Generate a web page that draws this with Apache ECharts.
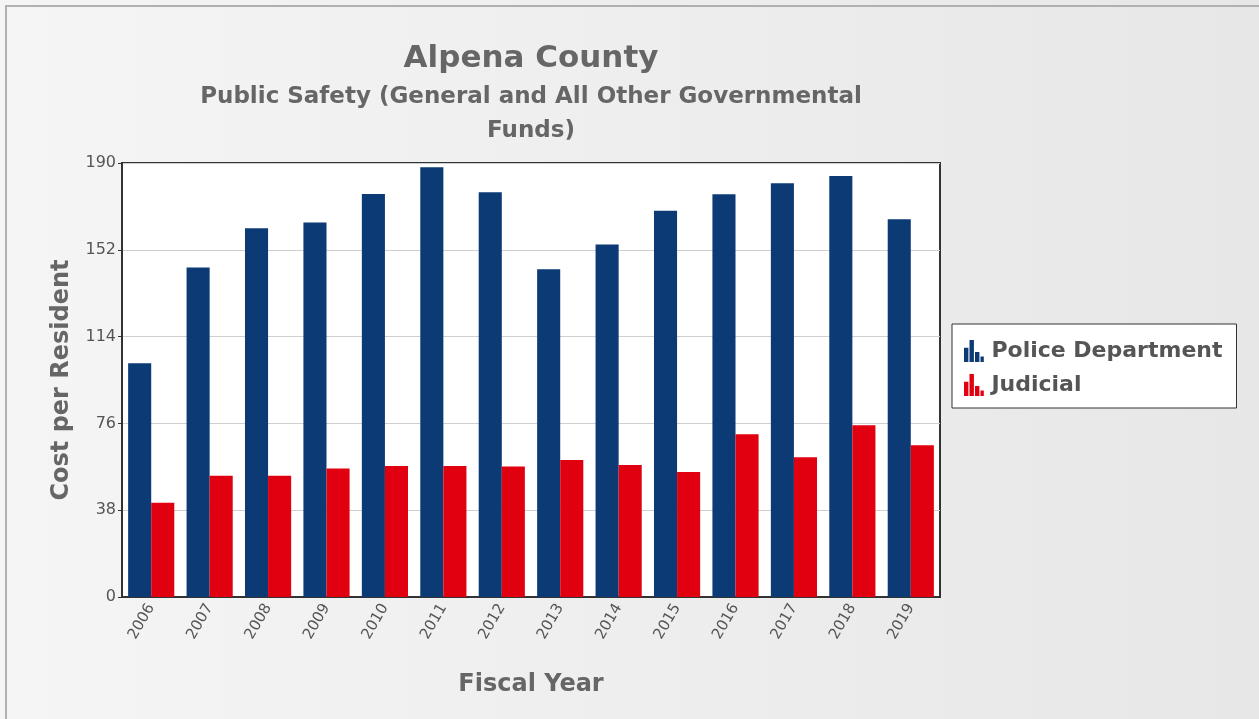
<!DOCTYPE html>
<html lang="en">
<head>
	<meta charset="UTF-8">
	<title>Alpena County - Public Safety</title>
	<script src="https://cdn.jsdelivr.net/npm/echarts@6/dist/echarts.min.js"></script>
	<style>
		html,body{width:100%;height:100%;margin:0;padding:0;}
		.chart{width:1259px;height:719px;}
	</style>
</head>
<body>
	<div class="chart" id="chart"></div>
</body>
<script>

	// data
	var years = ['2006', '2007', '2008', '2009', '2010', '2011', '2012', '2013', '2014', '2015', '2016', '2017', '2018', '2019'];
	var policeDept = [102.3, 144.3, 161.4, 163.9, 176.4, 188.1, 177.2, 143.5, 154.3, 169.1, 176.3, 181.1, 184.3, 165.4];
	var judicial = [41.3, 53.1, 53.1, 56.3, 57.4, 57.4, 57.1, 60.0, 57.8, 54.7, 71.2, 61.2, 75.2, 66.4];
	var yTicks = [0, 38, 76, 114, 152, 190];

	var font = 'DejaVu Sans';
	var barIcon = 'path://M0,7h4v13h-4z M5,0h4v20h-4z M10,11h4v9h-4z M15,15h3v5h-3z';

	var myChart;
	var options;

	chart();

	function chart() {

		myChart = echarts.init(document.getElementById('chart'));

		options = {
			animation: false,
			backgroundColor: new echarts.graphic.LinearGradient(0, 0, 1, 0, [
				{offset: 0, color: '#f5f5f5'},
				{offset: 1, color: '#e7e7e7'}
			]),
			graphic: [
				{
					type: 'rect', z: -1,
					shape: {x: 6, y: 6, width: 1258, height: 718},
					style: {fill: 'none', stroke: '#b0b0b0', lineWidth: 2}
				},
				{
					type: 'text', x: 531, y: 59,
					style: {text: 'Alpena County', align: 'center', verticalAlign: 'middle',
						fontFamily: font, fontWeight: 'bold', fontSize: 31, fill: '#666'}
				},
				{
					type: 'text', x: 531, y: 97,
					style: {text: 'Public Safety (General and All Other Governmental', align: 'center', verticalAlign: 'middle',
						fontFamily: font, fontWeight: 'bold', fontSize: 23, fill: '#666'}
				},
				{
					type: 'text', x: 531, y: 131,
					style: {text: 'Funds)', align: 'center', verticalAlign: 'middle',
						fontFamily: font, fontWeight: 'bold', fontSize: 23, fill: '#666'}
				}
			],
			legend: {
				orient: 'vertical',
				left: 952,
				top: 324,
				padding: [16, 14, 12, 12],
				itemGap: 12,
				itemWidth: 25,
				itemHeight: 22,
				backgroundColor: '#fff',
				borderColor: '#333',
				borderWidth: 1,
				icon: barIcon,
				textStyle: {fontFamily: font, fontWeight: 'bold', fontSize: 22, color: '#555'},
				data: ['Police Department', 'Judicial']
			},
			grid: {
				left: 122,
				right: 319,
				top: 163,
				bottom: 122,
				show: true,
				backgroundColor: '#fff',
				borderColor: '#333',
				borderWidth: 2
			},
			xAxis: {
				type: 'category',
				data: years,
				name: 'Fiscal Year',
				nameLocation: 'middle',
				nameGap: 76,
				nameTextStyle: {fontFamily: font, fontWeight: 'bold', fontSize: 24, color: '#666'},
				axisLine: {lineStyle: {color: '#333', width: 2}},
				axisTick: {show: false},
				axisLabel: {rotate: 60, fontFamily: font, fontSize: 15, color: '#555', margin: 8}
			},
			yAxis: {
				type: 'value',
				min: yTicks[0],
				max: yTicks[yTicks.length - 1],
				interval: yTicks[1] - yTicks[0],
				name: 'Cost per Resident',
				nameLocation: 'middle',
				nameGap: 48,
				nameTextStyle: {fontFamily: font, fontWeight: 'bold', fontSize: 24, color: '#666'},
				axisLine: {show: true, lineStyle: {color: '#333', width: 2}},
				axisTick: {show: true, length: 4, lineStyle: {color: '#333'}},
				axisLabel: {fontFamily: font, fontSize: 16, color: '#555', margin: 6},
				splitLine: {lineStyle: {color: '#cfcfcf'}}
			},
			series: [
				{
					name: 'Police Department',
					type: 'bar',
					data: policeDept,
					barGap: '0%',
					barCategoryGap: '21%',
					itemStyle: {color: '#0b3a74'}
				},
				{
					name: 'Judicial',
					type: 'bar',
					data: judicial,
					itemStyle: {color: '#e0000f'}
				}
			]
		};
		myChart.setOption(options);
	}

</script>
</html>
